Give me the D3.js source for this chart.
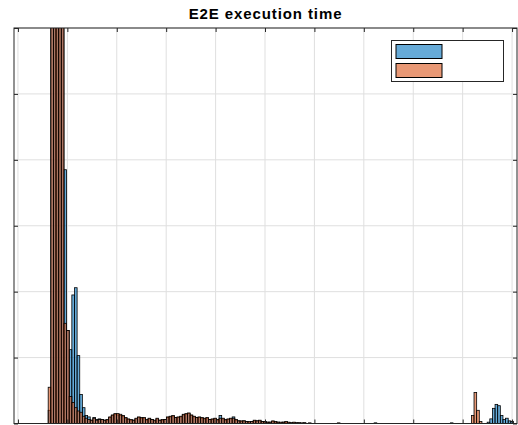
<!DOCTYPE html>
<meta charset="utf-8">
<style>
body { margin: 0; background: #fff; }
.title { font-family: "Liberation Sans", Arial, sans-serif; font-weight: bold; font-size: 15px; letter-spacing: 0.9px; fill: #000; }
.grid line { stroke: #dfdfdf; stroke-width: 1; }
.axis line { stroke: #262626; }
.axis path { display: none; }
.bars rect { stroke: #000; stroke-width: 0.8; }
</style>
<body>
<svg width="518" height="425"></svg>
</body>
<script src="https://cdn.jsdelivr.net/npm/d3@7"></script>
<script>

// histogram bins: left edge of bin i = binStart + i * binWidth
var binStart = 30.6,
    binWidth = 2.66;

var seriesNames = ["", ""];

var blueCounts = [
  20, 900, 1400, 1200, 800, 700, 385, 141, 112, 195, 206, 103, 44, 24, 12, 10, 5,
  9, 6, 7, 6, 5, 5, 9, 12, 14, 13, 12, 11, 8, 6, 5, 5, 7, 9, 8, 8, 5, 7, 6, 4,
  7, 5, 5, 6, 9, 10, 11, 9, 9, 10, 13, 14, 15, 12, 10, 9, 9, 8, 7, 8, 6, 6, 7, 5, 12, 7, 5, 6, 7, 10,
  5, 4, 3, 4, 3, 2, 3, 4, 4, 4, 3, 2, 2, 2, 3, 2, 2, 1, 2, 2, 1, 1, 1, 1, 1, 0, 1, 0, 0, 0,
  0, 0, 0, 0, 0, 0, 0, 0, 0, 0, 0, 0, 0, 0, 0, 0, 0, 0, 0, 0,
  0, 0, 0, 1, 0, 0, 0, 0, 0, 0, 0, 0, 0, 0, 0, 0, 0, 0, 0, 0,
  0, 0, 0, 0, 0, 0, 0, 0, 0, 0, 0, 0, 1, 0, 0, 0, 0, 0, 0, 0,
  0, 0, 0, 0, 0, 0,
  2, 7, 23, 29, 27, 12, 6, 8, 4, 3
];

var orangeCounts = [
  55, 1000, 1500, 1300, 900, 700, 152, 141, 41, 32, 24, 19, 17, 11, 8, 6, 5,
  8, 5, 6, 6, 5, 6, 10, 13, 15, 15, 14, 12, 9, 7, 6, 5, 8, 10, 9, 9, 6, 8, 6, 5,
  8, 5, 6, 6, 10, 11, 12, 9, 10, 11, 14, 15, 16, 13, 11, 9, 10, 9, 8, 9, 6, 7, 8, 6, 8, 8, 6, 7, 8, 8,
  6, 4, 4, 4, 3, 3, 3, 5, 4, 5, 3, 3, 2, 2, 4, 3, 2, 2, 2, 3, 2, 1, 2, 1, 1, 1, 1, 0, 1, 0,
  0, 0, 0, 0, 0, 0, 0, 0, 0, 1, 0, 0, 0, 0, 0, 0, 0, 0, 0, 0,
  0, 0, 0, 0, 0, 0, 0, 0, 0, 0, 0, 0, 0, 0, 0, 0, 0, 0, 0, 0,
  0, 0, 0, 0, 0, 0, 0, 0, 0, 0, 0, 0, 0, 0, 0, 0, 0, 0, 0, 0,
  12, 47, 20, 3,
  0, 0, 0, 0, 0, 0, 0, 0, 0, 0, 0, 0
];

var xTicks = [0, 50, 100, 150, 200, 250, 300, 350, 400, 450, 500];
var yTicks = [0, 100, 200, 300, 400, 500, 600];

var svg = d3.select("svg");

var pLeft = 14, pRight = 517, pTop = 28, pBottom = 423.5;

var x = d3.scaleLinear().domain([-4, 505]).range([pLeft, pRight]);
var y = d3.scaleLinear().domain([0, 600]).range([pBottom, pTop]);

svg.append("defs").append("clipPath").attr("id", "plotclip")
  .append("rect")
    .attr("x", pLeft).attr("y", pTop)
    .attr("width", pRight - pLeft).attr("height", pBottom - pTop);

// grid
var grid = svg.append("g").attr("class", "grid");
grid.selectAll(".vx").data(xTicks).enter().append("line")
    .attr("x1", function(d) { return x(d); })
    .attr("x2", function(d) { return x(d); })
    .attr("y1", pTop).attr("y2", pBottom);
grid.selectAll(".hy").data(yTicks).enter().append("line")
    .attr("x1", pLeft).attr("x2", pRight)
    .attr("y1", function(d) { return y(d); })
    .attr("y2", function(d) { return y(d); });

// bars
var series = [
  { counts: blueCounts, color: "#0072BD" },
  { counts: orangeCounts, color: "#D95319" }
];

var plot = svg.append("g").attr("clip-path", "url(#plotclip)");

series.forEach(function(s) {
  var bins = [];
  s.counts.forEach(function(c, i) {
    if (c > 0) bins.push({ x0: binStart + i * binWidth, x1: binStart + (i + 1) * binWidth, n: c });
  });
  plot.append("g").attr("class", "bars")
    .selectAll("rect")
    .data(bins)
    .enter().append("rect")
      .attr("x", function(d) { return x(d.x0); })
      .attr("width", function(d) { return x(d.x1) - x(d.x0); })
      .attr("y", function(d) { return y(d.n); })
      .attr("height", function(d) { return y(0) - y(d.n); })
      .attr("fill", s.color)
      .attr("fill-opacity", 0.6);
});

// axes (ticks inward, no labels)
var noLabel = function() { return ""; };
svg.append("g").attr("class", "axis").attr("transform", "translate(0," + pBottom + ")")
    .call(d3.axisBottom(x).tickValues(xTicks).tickSize(-4).tickFormat(noLabel));
svg.append("g").attr("class", "axis").attr("transform", "translate(0," + pTop + ")")
    .call(d3.axisTop(x).tickValues(xTicks).tickSize(-4).tickFormat(noLabel));
svg.append("g").attr("class", "axis").attr("transform", "translate(" + pLeft + ",0)")
    .call(d3.axisLeft(y).tickValues(yTicks).tickSize(-4).tickFormat(noLabel));
svg.append("g").attr("class", "axis").attr("transform", "translate(" + pRight + ",0)")
    .call(d3.axisRight(y).tickValues(yTicks).tickSize(-4).tickFormat(noLabel));

svg.append("rect")
    .attr("x", pLeft).attr("y", pTop)
    .attr("width", pRight - pLeft).attr("height", pBottom - pTop)
    .attr("fill", "none")
    .attr("stroke", "#262626")
    .attr("stroke-width", 1);

// title
svg.append("text")
    .attr("class", "title")
    .attr("x", (pLeft + pRight) / 2)
    .attr("y", 19)
    .attr("text-anchor", "middle")
    .text("E2E execution time");

// legend
var legend = svg.append("g").attr("transform", "translate(391.5,40.5)");
legend.append("rect")
    .attr("width", 112).attr("height", 41)
    .attr("fill", "#fff")
    .attr("stroke", "#262626")
    .attr("stroke-width", 1);

legend.selectAll(".item")
    .data(series)
    .enter().append("rect")
      .attr("x", 4.5)
      .attr("y", function(d, i) { return 4 + i * 19; })
      .attr("width", 46)
      .attr("height", 14)
      .attr("fill", function(d) { return d.color; })
      .attr("fill-opacity", 0.6)
      .attr("stroke", "#000")
      .attr("stroke-width", 1);

legend.selectAll(".lbl")
    .data(seriesNames)
    .enter().append("text")
      .attr("x", 56)
      .attr("y", function(d, i) { return 15 + i * 19; })
      .style("font-family", "Liberation Sans, Arial, sans-serif")
      .style("font-size", "10px")
      .text(function(d) { return d; });

</script>
